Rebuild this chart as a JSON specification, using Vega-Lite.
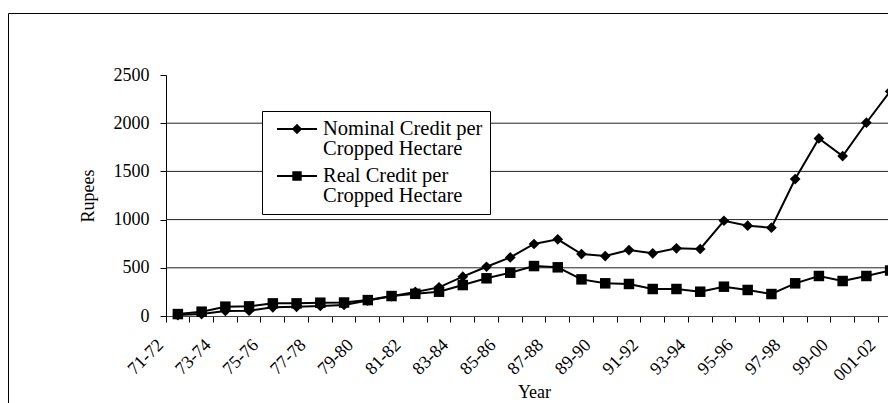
{
  "$schema": "https://vega.github.io/schema/vega-lite/v6.json",
  "autosize": {"type": "none"},
  "padding": {"left": 8, "top": 13, "right": 0, "bottom": 0},
  "width": 880,
  "height": 390,
  "background": "white",
  "config": {
    "view": {"stroke": "#000", "strokeWidth": 1},
    "font": "Liberation Serif",
    "axis": {"labelColor": "#000", "titleColor": "#000", "labelFont": "Liberation Serif", "titleFont": "Liberation Serif", "titleFontWeight": "normal"},
    "style": {"guide-label": {"lineHeight": 20}}
  },
  "encoding": {
    "y": {
      "field": "value",
      "type": "quantitative",
      "scale": {"domain": [0, 2500], "range": [303, 62], "nice": false},
      "axis": {
        "title": "Rupees",
        "offset": -158,
        "values": [0, 500, 1000, 1500, 2000, 2500],
        "format": "d",
        "tickSize": 6,
        "tickColor": "#000",
        "domainColor": "#000",
        "labelPadding": 11,
        "labelFontSize": 18,
        "titleFontSize": 18,
        "titlePadding": 16,
        "grid": false
      }
    }
  },
  "layer": [
    {
      "data": {"values": [{"g": 500}, {"g": 1000}, {"g": 1500}, {"g": 2000}]},
      "mark": {"type": "rule", "color": "#222", "strokeWidth": 1},
      "encoding": {
        "y": {"field": "g", "type": "quantitative"},
        "x": {"datum": 0, "type": "quantitative", "scale": {"domain": [0, 1], "range": [158, 900]}, "axis": null},
        "x2": {"datum": 1}
      }
    },
    {
      "data": {
        "values": [
          {"year": "71-72", "series": "Nominal Credit per Cropped Hectare", "value": 10},
          {"year": "72-73", "series": "Nominal Credit per Cropped Hectare", "value": 20},
          {"year": "73-74", "series": "Nominal Credit per Cropped Hectare", "value": 52},
          {"year": "74-75", "series": "Nominal Credit per Cropped Hectare", "value": 55},
          {"year": "75-76", "series": "Nominal Credit per Cropped Hectare", "value": 90},
          {"year": "76-77", "series": "Nominal Credit per Cropped Hectare", "value": 95},
          {"year": "77-78", "series": "Nominal Credit per Cropped Hectare", "value": 105},
          {"year": "78-79", "series": "Nominal Credit per Cropped Hectare", "value": 115},
          {"year": "79-80", "series": "Nominal Credit per Cropped Hectare", "value": 160},
          {"year": "80-81", "series": "Nominal Credit per Cropped Hectare", "value": 205},
          {"year": "81-82", "series": "Nominal Credit per Cropped Hectare", "value": 250},
          {"year": "82-83", "series": "Nominal Credit per Cropped Hectare", "value": 297},
          {"year": "83-84", "series": "Nominal Credit per Cropped Hectare", "value": 408},
          {"year": "84-85", "series": "Nominal Credit per Cropped Hectare", "value": 511},
          {"year": "85-86", "series": "Nominal Credit per Cropped Hectare", "value": 608},
          {"year": "86-87", "series": "Nominal Credit per Cropped Hectare", "value": 747},
          {"year": "87-88", "series": "Nominal Credit per Cropped Hectare", "value": 795},
          {"year": "88-89", "series": "Nominal Credit per Cropped Hectare", "value": 643},
          {"year": "89-90", "series": "Nominal Credit per Cropped Hectare", "value": 622},
          {"year": "90-91", "series": "Nominal Credit per Cropped Hectare", "value": 684},
          {"year": "91-92", "series": "Nominal Credit per Cropped Hectare", "value": 650},
          {"year": "92-93", "series": "Nominal Credit per Cropped Hectare", "value": 702},
          {"year": "93-94", "series": "Nominal Credit per Cropped Hectare", "value": 695},
          {"year": "94-95", "series": "Nominal Credit per Cropped Hectare", "value": 988},
          {"year": "95-96", "series": "Nominal Credit per Cropped Hectare", "value": 937},
          {"year": "96-97", "series": "Nominal Credit per Cropped Hectare", "value": 916},
          {"year": "97-98", "series": "Nominal Credit per Cropped Hectare", "value": 1421},
          {"year": "98-99", "series": "Nominal Credit per Cropped Hectare", "value": 1842},
          {"year": "99-00", "series": "Nominal Credit per Cropped Hectare", "value": 1659},
          {"year": "00-01", "series": "Nominal Credit per Cropped Hectare", "value": 2005},
          {"year": "001-02", "series": "Nominal Credit per Cropped Hectare", "value": 2330},
          {"year": "71-72", "series": "Real Credit per Cropped Hectare", "value": 20},
          {"year": "72-73", "series": "Real Credit per Cropped Hectare", "value": 45},
          {"year": "73-74", "series": "Real Credit per Cropped Hectare", "value": 97},
          {"year": "74-75", "series": "Real Credit per Cropped Hectare", "value": 100},
          {"year": "75-76", "series": "Real Credit per Cropped Hectare", "value": 131},
          {"year": "76-77", "series": "Real Credit per Cropped Hectare", "value": 131},
          {"year": "77-78", "series": "Real Credit per Cropped Hectare", "value": 138},
          {"year": "78-79", "series": "Real Credit per Cropped Hectare", "value": 140},
          {"year": "79-80", "series": "Real Credit per Cropped Hectare", "value": 165},
          {"year": "80-81", "series": "Real Credit per Cropped Hectare", "value": 207},
          {"year": "81-82", "series": "Real Credit per Cropped Hectare", "value": 230},
          {"year": "82-83", "series": "Real Credit per Cropped Hectare", "value": 252},
          {"year": "83-84", "series": "Real Credit per Cropped Hectare", "value": 321},
          {"year": "84-85", "series": "Real Credit per Cropped Hectare", "value": 391},
          {"year": "85-86", "series": "Real Credit per Cropped Hectare", "value": 449},
          {"year": "86-87", "series": "Real Credit per Cropped Hectare", "value": 518},
          {"year": "87-88", "series": "Real Credit per Cropped Hectare", "value": 505},
          {"year": "88-89", "series": "Real Credit per Cropped Hectare", "value": 380},
          {"year": "89-90", "series": "Real Credit per Cropped Hectare", "value": 339},
          {"year": "90-91", "series": "Real Credit per Cropped Hectare", "value": 332},
          {"year": "91-92", "series": "Real Credit per Cropped Hectare", "value": 280},
          {"year": "92-93", "series": "Real Credit per Cropped Hectare", "value": 280},
          {"year": "93-94", "series": "Real Credit per Cropped Hectare", "value": 252},
          {"year": "94-95", "series": "Real Credit per Cropped Hectare", "value": 304},
          {"year": "95-96", "series": "Real Credit per Cropped Hectare", "value": 270},
          {"year": "96-97", "series": "Real Credit per Cropped Hectare", "value": 228},
          {"year": "97-98", "series": "Real Credit per Cropped Hectare", "value": 339},
          {"year": "98-99", "series": "Real Credit per Cropped Hectare", "value": 415},
          {"year": "99-00", "series": "Real Credit per Cropped Hectare", "value": 363},
          {"year": "00-01", "series": "Real Credit per Cropped Hectare", "value": 415},
          {"year": "001-02", "series": "Real Credit per Cropped Hectare", "value": 472}
        ]
      },
      "encoding": {
        "x": {
          "field": "year",
          "type": "nominal",
          "sort": null,
          "scale": {"type": "band", "range": [158, 894], "paddingInner": 0, "paddingOuter": 0},
          "axis": {
            "title": "Year",
            "orient": "bottom",
            "offset": -87,
            "bandPosition": 0,
            "labelAngle": -45,
            "labelAlign": "right",
            "labelBaseline": "middle",
            "labelFontSize": 18,
            "labelPadding": 20,
            "labelOffset": -17,
            "labelOverlap": false,
            "labelExpr": "indexof(['71-72','73-74','75-76','77-78','79-80','81-82','83-84','85-86','87-88','89-90','91-92','93-94','95-96','97-98','99-00','001-02'], datum.value) >= 0 ? datum.label : ''",
            "tickSize": 6,
            "tickColor": "#000",
            "domainColor": "#444",
            "grid": false,
            "titleFontSize": 18,
            "titlePadding": -1
          }
        }
      },
      "layer": [
        {
          "mark": {"type": "line", "color": "#000", "strokeWidth": 2},
          "encoding": {"detail": {"field": "series", "type": "nominal"}}
        },
        {
          "transform": [{"filter": "datum.series === 'Nominal Credit per Cropped Hectare'"}],
          "mark": {"type": "point", "shape": "diamond", "filled": true, "color": "#000", "opacity": 1, "size": 115}
        },
        {
          "transform": [{"filter": "datum.series === 'Real Credit per Cropped Hectare'"}],
          "mark": {"type": "point", "shape": "square", "filled": true, "color": "#000", "opacity": 1, "size": 110}
        },
        {
          "mark": {"type": "point", "filled": false, "color": "#000", "strokeWidth": 2, "opacity": 0},
          "encoding": {
            "shape": {
              "field": "series",
              "type": "nominal",
              "scale": {
                "domain": ["Nominal Credit per Cropped Hectare", "Real Credit per Cropped Hectare"],
                "range": ["M-0.3,0H3.7M1.7,-0.38L2.08,0L1.7,0.38L1.32,0ZM1.7,-0.2L1.9,0L1.7,0.2L1.5,0ZM1.62,0H1.78", "M-0.3,0H3.7M1.33,-0.37H2.07V0.37H1.33ZM1.5,-0.2H1.9V0.2H1.5ZM1.65,-0.05H1.75V0.05H1.65Z"]
              },
              "legend": {
                "orient": "none",
                "legendX": 254,
                "legendY": 98,
                "title": null,
                "padding": 7,
                "strokeColor": "#000",
                "fillColor": "#fff",
                "labelFont": "Liberation Serif",
                "labelFontSize": 20.5,
                "labelColor": "#000",
                "labelLimit": 400,
                "labelOffset": 32,
                "rowPadding": 5,
                "symbolSize": 400,
                "symbolStrokeWidth": 2,
                "symbolOpacity": 1,
                "symbolStrokeColor": "#000",
                "labelExpr": "split(replace(datum.label, ' Cropped', '|Cropped'), '|')"
              }
            }
          }
        }
      ]
    }
  ],
  "resolve": {"scale": {"x": "independent"}, "axis": {"x": "independent"}}
}
